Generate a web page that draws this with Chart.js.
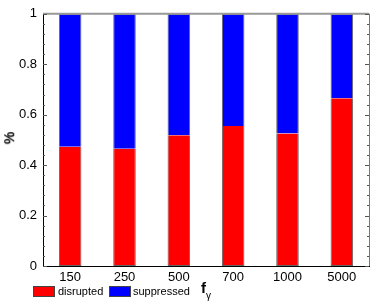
<!DOCTYPE html>
<html>
<head>
<meta charset="utf-8">
<script src="https://cdn.jsdelivr.net/npm/chart.js@4"></script>
<style>
html,body{margin:0;padding:0;background:#fff;}
#wrap{position:relative;width:374px;height:302px;font-family:"Liberation Sans",Arial,sans-serif;}
canvas{position:absolute;left:0;top:0;}
.lg{position:absolute;font-size:11px;color:#000;line-height:12px;}
.box{position:absolute;width:22px;height:11px;border:1px solid #444;box-sizing:border-box;}
#ylab{position:absolute;left:3px;top:130px;font-size:14px;font-weight:bold;transform:rotate(-90deg);transform-origin:center;}
#xlab{position:absolute;left:201px;top:279px;font-size:15px;font-weight:bold;}
#xlab sub{font-size:10px;font-weight:normal;position:relative;top:2px;}
</style>
</head>
<body>
<div id="wrap">
<canvas id="c" width="374" height="302"></canvas>
<div id="ylab">%</div>
<div id="xlab">f<sub>γ</sub></div>
<div class="box" style="left:33px;top:286px;background:#ff0000;"></div>
<div class="lg" style="left:58px;top:285px;">disrupted</div>
<div class="box" style="left:109px;top:286px;background:#0000ff;"></div>
<div class="lg" style="left:133px;top:285px;">suppressed</div>
</div>
<script>
const categories = ['150','250','500','700','1000','5000'];
const disrupted = [0.473, 0.465, 0.518, 0.555, 0.525, 0.665];
const suppressed = [0.527, 0.535, 0.482, 0.445, 0.475, 0.335];
const yTickStep = 0.04;

const tickPlugin = {
  id: 'ticks',
  afterDraw(chart) {
    const ctx = chart.ctx, a = chart.chartArea, y = chart.scales.y;
    ctx.save();
    ctx.strokeStyle = '#999';
    ctx.lineWidth = 2;
    ctx.beginPath();
    ctx.moveTo(a.left, a.top); ctx.lineTo(a.right, a.top);
    ctx.stroke();
    ctx.strokeStyle = '#777';
    ctx.lineWidth = 1;
    ctx.beginPath();
    ctx.moveTo(a.right + 0.5, a.top); ctx.lineTo(a.right + 0.5, a.bottom);
    ctx.stroke();
    ctx.strokeStyle = '#555';
    y.ticks.forEach(t => {
      const py = Math.round(y.getPixelForValue(t.value)) + 0.5;
      const major = Math.round(t.value * 100) % 20 === 0;
      const len = major ? 4 : 2;
      ctx.beginPath();
      ctx.moveTo(a.left, py); ctx.lineTo(a.left + len, py);
      ctx.moveTo(a.right, py); ctx.lineTo(a.right - len, py);
      ctx.stroke();
    });
    ctx.restore();
  }
};

new Chart(document.getElementById('c'), {
  type: 'bar',
  data: {
    labels: categories,
    datasets: [
      { label: 'disrupted', data: disrupted, backgroundColor: '#ff0000', borderColor: '#666', borderWidth: 1, borderSkipped: 'end' },
      { label: 'suppressed', data: suppressed, backgroundColor: '#0000ff', borderColor: '#666', borderWidth: 1, borderSkipped: 'start' }
    ]
  },
  options: {
    responsive: false,
    animation: false,
    layout: { padding: { top: 10, right: 5, left: 0, bottom: 0 } },
    plugins: { legend: { display: false }, tooltip: { enabled: false } },
    datasets: { bar: { barPercentage: 0.415, categoryPercentage: 1 } },
    scales: {
      x: {
        stacked: true,
        grid: { display: false, drawTicks: false },
        border: { display: true, color: '#000', width: 1 },
        ticks: { color: '#000', font: { family: 'Liberation Sans', size: 13 }, padding: 4, maxRotation: 0 },
        afterFit(s) { s.height = 36; }
      },
      y: {
        stacked: true,
        min: 0, max: 1,
        grid: { display: false, drawTicks: false },
        border: { display: true, color: '#000', width: 1 },
        ticks: {
          stepSize: yTickStep,
          color: '#000',
          font: { family: 'Liberation Sans', size: 13 },
          padding: 6,
          autoSkip: false,
          callback(v) {
            const r = Math.round(v * 100);
            return r % 20 === 0 ? String(r / 100) : '';
          }
        },
        afterFit(s) { s.width = 43; }
      }
    }
  },
  plugins: [tickPlugin]
});
</script>
</body>
</html>
